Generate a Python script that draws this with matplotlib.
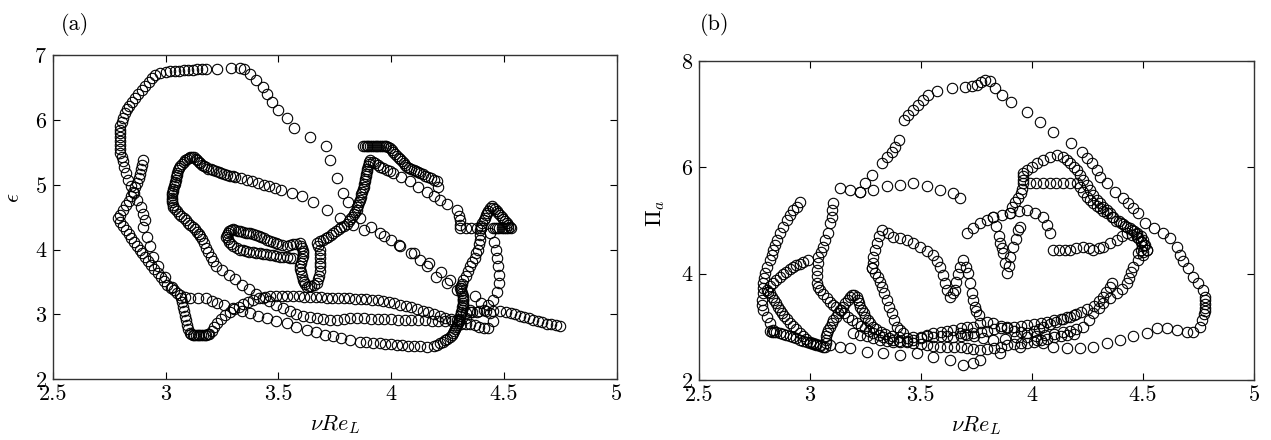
import matplotlib
matplotlib.use("Agg")
import matplotlib.pyplot as plt

plt.rcParams["font.family"] = "cmr10"
plt.rcParams["mathtext.fontset"] = "cm"
plt.rcParams["axes.formatter.use_mathtext"] = True

# ---- panel (a): nu*Re_L vs epsilon, traced as strokes ----
a1 = [(3.064, 3.30), (3.027, 3.43), (2.998, 3.58), (2.968, 3.74), (2.946, 3.89), (2.931, 4.05),
      (2.917, 4.20), (2.902, 4.355), (2.91, 4.45), (2.90, 4.55), (2.89, 4.66), (2.875, 4.77),
      (2.86, 4.88), (2.845, 4.98), (2.835, 5.08), (2.825, 5.18), (2.815, 5.28), (2.81, 5.36),
      (2.805, 5.43), (2.80, 5.49), (2.80, 5.55), (2.80, 5.61), (2.80, 5.67), (2.80, 5.73),
      (2.80, 5.79), (2.80, 5.85), (2.80, 5.91), (2.805, 5.97), (2.81, 6.03), (2.82, 6.10),
      (2.83, 6.16), (2.84, 6.22), (2.85, 6.28), (2.865, 6.34), (2.88, 6.40), (2.895, 6.46),
      (2.91, 6.52), (2.925, 6.58), (2.94, 6.64), (2.955, 6.69), (2.975, 6.72), (3.00, 6.74),
      (3.02, 6.75), (3.04, 6.76), (3.06, 6.76), (3.08, 6.77), (3.10, 6.77), (3.12, 6.77),
      (3.14, 6.78), (3.16, 6.78), (3.18, 6.79), (3.23, 6.79), (3.29, 6.80), (3.33, 6.80),
      (3.35, 6.79), (3.375, 6.71), (3.40, 6.62), (3.43, 6.50), (3.45, 6.40), (3.47, 6.28),
      (3.50, 6.15), (3.54, 6.03), (3.57, 5.87), (3.64, 5.73), (3.71, 5.59), (3.73, 5.38),
      (3.76, 5.10), (3.785, 4.87), (3.81, 4.74), (3.86, 4.48), (3.91, 4.35), (3.97, 4.21),
      (4.035, 4.07), (4.09, 3.95), (4.17, 3.79), (4.22, 3.66), (4.26, 3.53), (4.305, 3.41),
      (4.37, 3.28), (4.40, 3.17), (4.44, 3.02), (4.45, 2.90), (4.43, 2.79), (4.41, 2.79),
      (4.39, 2.81), (4.37, 2.83), (4.35, 2.85), (4.33, 2.86)]

a2 = [(2.900, 5.38), (2.897, 5.31), (2.893, 5.24), (2.888, 5.17), (2.882, 5.10), (2.875, 5.03),
      (2.867, 4.96), (2.858, 4.89), (2.848, 4.82), (2.838, 4.75), (2.826, 4.68), (2.813, 4.61),
      (2.80, 4.54), (2.79, 4.48), (2.80, 4.42), (2.812, 4.36), (2.824, 4.30), (2.836, 4.24),
      (2.848, 4.18), (2.86, 4.12), (2.872, 4.06), (2.885, 4.00), (2.898, 3.94), (2.911, 3.88),
      (2.924, 3.82), (2.937, 3.76), (2.951, 3.70), (2.965, 3.64), (2.979, 3.58), (2.993, 3.52),
      (3.008, 3.46), (3.023, 3.41), (3.038, 3.37), (3.052, 3.33), (3.068, 3.26), (3.072, 3.19),
      (3.076, 3.12), (3.08, 3.05), (3.085, 2.98), (3.09, 2.91), (3.095, 2.84), (3.10, 2.77),
      (3.108, 2.71), (3.114, 2.70), (3.12, 2.69), (3.128, 2.69), (3.135, 2.69), (3.143, 2.69),
      (3.15, 2.69), (3.158, 2.69), (3.165, 2.69), (3.173, 2.69), (3.18, 2.69), (3.188, 2.695),
      (3.195, 2.70), (3.205, 2.74), (3.215, 2.80), (3.227, 2.87), (3.245, 2.93), (3.265, 2.99),
      (3.285, 3.04), (3.305, 3.08), (3.325, 3.12), (3.345, 3.16), (3.365, 3.19), (3.39, 3.22),
      (3.415, 3.25), (3.44, 3.27), (3.465, 3.28), (3.49, 3.28), (3.515, 3.28), (3.54, 3.28),
      (3.565, 3.28), (3.59, 3.28), (3.615, 3.275), (3.64, 3.27), (3.665, 3.27), (3.69, 3.265),
      (3.715, 3.26), (3.74, 3.26), (3.765, 3.255), (3.79, 3.25), (3.815, 3.25), (3.84, 3.245),
      (3.865, 3.24), (3.89, 3.235), (3.915, 3.23), (3.94, 3.22), (3.965, 3.21), (3.99, 3.19),
      (4.015, 3.17), (4.04, 3.15), (4.065, 3.13), (4.09, 3.11), (4.115, 3.09), (4.14, 3.06),
      (4.165, 3.03), (4.19, 3.00), (4.215, 2.97), (4.24, 2.95), (4.265, 2.93), (4.29, 2.92)]

a3 = [(4.30, 2.90), (4.27, 2.90), (4.24, 2.90), (4.21, 2.90), (4.18, 2.905), (4.15, 2.91),
      (4.12, 2.91), (4.09, 2.915), (4.06, 2.92), (4.03, 2.92), (4.00, 2.925), (3.97, 2.93),
      (3.94, 2.93), (3.91, 2.935), (3.88, 2.94), (3.85, 2.94), (3.82, 2.94), (3.79, 2.93),
      (3.76, 2.92), (3.73, 2.92), (3.70, 2.93), (3.67, 2.95), (3.64, 2.96), (3.61, 2.98),
      (3.58, 3.01), (3.55, 3.05), (3.52, 3.10), (3.49, 3.15), (3.46, 3.20), (3.43, 3.26),
      (3.40, 3.32), (3.37, 3.39), (3.34, 3.46), (3.31, 3.54), (3.28, 3.61), (3.25, 3.68),
      (3.225, 3.75), (3.21, 3.82), (3.20, 3.89), (3.19, 3.96), (3.18, 4.03), (3.17, 4.10),
      (3.16, 4.17), (3.155, 4.205), (3.15, 4.24), (3.14, 4.275), (3.13, 4.31), (3.12, 4.345),
      (3.11, 4.38), (3.10, 4.415), (3.09, 4.45), (3.08, 4.485), (3.07, 4.52), (3.06, 4.555),
      (3.05, 4.59), (3.042, 4.625), (3.035, 4.66), (3.032, 4.695), (3.03, 4.73), (3.03, 4.765),
      (3.03, 4.80), (3.03, 4.835), (3.03, 4.87), (3.032, 4.905), (3.035, 4.94), (3.037, 4.975),
      (3.04, 5.01), (3.042, 5.045), (3.045, 5.08), (3.047, 5.115), (3.05, 5.15), (3.052, 5.185),
      (3.055, 5.22), (3.06, 5.255), (3.065, 5.29), (3.072, 5.32), (3.08, 5.35), (3.088, 5.375),
      (3.095, 5.40), (3.103, 5.415), (3.11, 5.43), (3.118, 5.43), (3.125, 5.42), (3.133, 5.40),
      (3.14, 5.38), (3.148, 5.355), (3.155, 5.33), (3.163, 5.31), (3.17, 5.29), (3.18, 5.27),
      (3.19, 5.25), (3.20, 5.235), (3.21, 5.22), (3.222, 5.205), (3.235, 5.19), (3.247, 5.18),
      (3.26, 5.17), (3.272, 5.155), (3.285, 5.14), (3.297, 5.13), (3.31, 5.12), (3.335, 5.10),
      (3.36, 5.08), (3.385, 5.05), (3.41, 5.02), (3.435, 5.00), (3.46, 4.98), (3.485, 4.95),
      (3.51, 4.92), (3.56, 4.88), (3.605, 4.82), (3.655, 4.74), (3.715, 4.61), (3.773, 4.48),
      (3.83, 4.38), (3.88, 4.30), (3.95, 4.25), (4.00, 4.15), (4.04, 4.05), (4.10, 3.94),
      (4.13, 3.84), (4.16, 3.74), (4.20, 3.58), (4.25, 3.48), (4.29, 3.38), (4.32, 3.225),
      (4.35, 3.07), (4.33, 2.95), (4.31, 2.85)]

a4 = [(3.085, 3.27), (3.109, 3.25), (3.145, 3.25), (3.18, 3.25), (3.205, 3.21), (3.227, 3.174),
      (3.26, 3.14), (3.30, 3.097), (3.34, 3.06), (3.375, 3.02), (3.41, 2.98), (3.449, 2.94),
      (3.49, 2.90), (3.537, 2.866), (3.58, 2.81), (3.626, 2.76), (3.665, 2.73), (3.705, 2.69),
      (3.744, 2.66), (3.78, 2.63), (3.82, 2.60), (3.862, 2.58), (3.89, 2.57), (3.92, 2.56),
      (3.95, 2.555), (3.975, 2.55), (4.00, 2.54), (4.025, 2.535), (4.05, 2.53), (4.075, 2.52),
      (4.10, 2.515), (4.13, 2.51), (4.158, 2.505), (4.19, 2.52), (4.205, 2.535), (4.217, 2.556),
      (4.228, 2.58), (4.24, 2.60), (4.25, 2.625), (4.26, 2.65), (4.268, 2.68), (4.276, 2.71),
      (4.28, 2.74), (4.285, 2.77), (4.289, 2.80), (4.293, 2.83), (4.297, 2.865), (4.30, 2.90),
      (4.303, 2.935), (4.305, 2.97), (4.308, 3.005), (4.31, 3.04), (4.313, 3.075), (4.315, 3.11),
      (4.318, 3.145), (4.32, 3.18), (4.32, 3.215), (4.32, 3.25), (4.318, 3.29), (4.315, 3.33),
      (4.312, 3.365), (4.31, 3.40), (4.312, 3.435), (4.315, 3.47), (4.32, 3.53), (4.33, 3.60),
      (4.34, 3.67), (4.35, 3.74), (4.36, 3.81), (4.37, 3.87), (4.378, 3.94), (4.385, 4.00),
      (4.39, 4.08), (4.392, 4.15), (4.394, 4.22), (4.394, 4.30), (4.397, 4.335), (4.40, 4.37),
      (4.405, 4.41), (4.41, 4.45), (4.415, 4.49), (4.42, 4.53), (4.425, 4.565), (4.43, 4.60),
      (4.438, 4.635), (4.446, 4.67), (4.453, 4.645), (4.46, 4.62), (4.468, 4.59), (4.475, 4.56),
      (4.483, 4.53), (4.49, 4.50), (4.498, 4.47), (4.505, 4.44), (4.513, 4.41), (4.52, 4.38),
      (4.525, 4.355), (4.53, 4.33), (4.52, 4.33), (4.51, 4.33), (4.50, 4.33), (4.49, 4.33),
      (4.48, 4.33), (4.47, 4.33), (4.46, 4.33), (4.45, 4.33), (4.44, 4.25), (4.455, 4.12),
      (4.465, 4.00), (4.47, 3.87), (4.475, 3.74), (4.48, 3.61), (4.48, 3.48), (4.47, 3.35),
      (4.453, 3.225), (4.43, 3.14), (4.41, 3.07), (4.38, 3.045), (4.35, 3.03), (4.33, 3.02),
      (4.36, 3.04), (4.39, 3.05), (4.42, 3.06), (4.45, 3.06), (4.483, 3.05), (4.51, 3.03),
      (4.53, 3.02), (4.55, 3.00), (4.57, 2.98), (4.59, 2.96), (4.61, 2.94), (4.63, 2.92),
      (4.65, 2.90), (4.67, 2.88), (4.69, 2.86), (4.71, 2.85), (4.73, 2.83), (4.749, 2.82)]

a5 = [(3.567, 3.87), (3.552, 3.875), (3.537, 3.88), (3.522, 3.885), (3.507, 3.89), (3.492, 3.90),
      (3.477, 3.91), (3.462, 3.92), (3.447, 3.93), (3.432, 3.935), (3.417, 3.94), (3.402, 3.95),
      (3.387, 3.96), (3.372, 3.97), (3.357, 3.98), (3.342, 3.99), (3.33, 4.00), (3.315, 4.02),
      (3.30, 4.05), (3.29, 4.08), (3.28, 4.12), (3.275, 4.16), (3.27, 4.20), (3.272, 4.23),
      (3.275, 4.26), (3.283, 4.28), (3.29, 4.30), (3.30, 4.31), (3.31, 4.30), (3.32, 4.29),
      (3.33, 4.28), (3.343, 4.27), (3.355, 4.26), (3.365, 4.255), (3.375, 4.25), (3.388, 4.24),
      (3.40, 4.23), (3.413, 4.215), (3.425, 4.20), (3.437, 4.175), (3.449, 4.15), (3.462, 4.135),
      (3.475, 4.12), (3.488, 4.105), (3.50, 4.09), (3.518, 4.07), (3.537, 4.05), (3.551, 4.065),
      (3.565, 4.08), (3.58, 4.09), (3.596, 4.10), (3.60, 4.06), (3.605, 4.02), (3.608, 3.98),
      (3.611, 3.94), (3.608, 3.90), (3.605, 3.85), (3.60, 3.80), (3.596, 3.74), (3.598, 3.70),
      (3.60, 3.65), (3.605, 3.60), (3.611, 3.53), (3.615, 3.50), (3.62, 3.47), (3.626, 3.43),
      (3.635, 3.435), (3.645, 3.44), (3.657, 3.46), (3.67, 3.48), (3.675, 3.54), (3.68, 3.60),
      (3.683, 3.67), (3.685, 3.74), (3.685, 3.80), (3.685, 3.87), (3.685, 3.93), (3.685, 4.00),
      (3.678, 4.05), (3.67, 4.10), (3.685, 4.125), (3.70, 4.15), (3.71, 4.175), (3.72, 4.20),
      (3.732, 4.225), (3.744, 4.25), (3.757, 4.285), (3.77, 4.32), (3.78, 4.345), (3.79, 4.37),
      (3.803, 4.40), (3.812, 4.435), (3.82, 4.47), (3.828, 4.51), (3.835, 4.55), (3.841, 4.58),
      (3.847, 4.61), (3.851, 4.65), (3.855, 4.69), (3.859, 4.73), (3.862, 4.77), (3.865, 4.81),
      (3.868, 4.85), (3.872, 4.89), (3.875, 4.93), (3.878, 4.97), (3.88, 5.01), (3.883, 5.05),
      (3.885, 5.09), (3.888, 5.13), (3.89, 5.17), (3.893, 5.21), (3.895, 5.25), (3.898, 5.29),
      (3.90, 5.32), (3.903, 5.35), (3.906, 5.38), (3.918, 5.355), (3.93, 5.33), (3.94, 5.305),
      (3.951, 5.28), (3.965, 5.255), (3.98, 5.23), (3.995, 5.205), (4.01, 5.18), (4.045, 5.12),
      (4.084, 5.05), (4.12, 4.97), (4.158, 4.89), (4.19, 4.83), (4.217, 4.77), (4.25, 4.70),
      (4.29, 4.61), (4.30, 4.52), (4.305, 4.45), (4.305, 4.38), (4.305, 4.33), (4.33, 4.33),
      (4.355, 4.33), (4.38, 4.33)]

a6 = [(3.875, 5.59), (3.883, 5.59), (3.891, 5.59), (3.899, 5.59), (3.907, 5.59), (3.915, 5.59),
      (3.923, 5.59), (3.931, 5.59), (3.939, 5.59), (3.947, 5.59), (3.955, 5.59), (3.963, 5.59),
      (3.971, 5.59), (3.979, 5.59), (3.987, 5.585), (3.995, 5.56), (4.003, 5.53), (4.01, 5.50),
      (4.018, 5.47), (4.025, 5.44), (4.033, 5.415), (4.04, 5.39), (4.048, 5.365), (4.055, 5.34),
      (4.062, 5.31), (4.069, 5.28), (4.08, 5.26), (4.09, 5.24), (4.10, 5.225), (4.11, 5.21),
      (4.12, 5.195), (4.128, 5.18), (4.14, 5.16), (4.15, 5.14), (4.163, 5.12), (4.175, 5.10),
      (4.19, 5.075), (4.202, 5.05), (4.21, 4.97)]

# ---- panel (b): nu*Re_L vs Pi_a ----
b1 = [(3.226, 5.54), (3.25, 5.70), (3.279, 5.857), (3.324, 6.077), (3.346, 6.20), (3.369, 6.295),
      (3.384, 6.39), (3.402, 6.515), (3.424, 6.89), (3.444, 6.985), (3.466, 7.08), (3.489, 7.17),
      (3.511, 7.27), (3.534, 7.36), (3.572, 7.44), (3.639, 7.487), (3.699, 7.517), (3.729, 7.53),
      (3.752, 7.55), (3.77, 7.60), (3.79, 7.64), (3.81, 7.62), (3.834, 7.487), (3.864, 7.36),
      (3.905, 7.235), (3.977, 7.047), (4.037, 6.86), (4.094, 6.67), (4.176, 6.46), (4.224, 6.295),
      (4.247, 6.17), (4.27, 6.077), (4.292, 5.95), (4.307, 5.825), (4.337, 5.70), (4.374, 5.543),
      (4.412, 5.42), (4.434, 5.325), (4.457, 5.23), (4.479, 5.137), (4.509, 4.95), (4.55, 4.85),
      (4.592, 4.76), (4.622, 4.667),
      (4.652, 4.51), (4.667, 4.353), (4.682, 4.23), (4.704, 4.10), (4.727, 3.946), (4.749, 3.82),
      (4.772, 3.695), (4.78, 3.57), (4.78, 3.50), (4.78, 3.43), (4.78, 3.36), (4.78, 3.30),
      (4.775, 3.25), (4.765, 3.12), (4.757, 3.006), (4.727, 2.91), (4.697, 2.91), (4.652, 2.94),
      (4.607, 2.975), (4.562, 2.975), (4.517, 2.88), (4.457, 2.82), (4.397, 2.756), (4.337, 2.69),
      (4.277, 2.63), (4.217, 2.60), (4.157, 2.60), (4.097, 2.63), (4.052, 2.69), (4.022, 2.756),
      (3.947, 2.63), (3.857, 2.505), (3.766, 2.38), (3.736, 2.32), (3.691, 2.285), (3.631, 2.38),
      (3.556, 2.44), (3.481, 2.505), (3.406, 2.475), (3.331, 2.505), (3.256, 2.536), (3.181, 2.60),
      (3.136, 2.63), (3.091, 2.66)]

b2 = [(3.136, 5.607), (3.181, 5.575), (3.226, 5.54), (3.286, 5.575), (3.346, 5.64), (3.406, 5.67),
      (3.466, 5.70), (3.527, 5.64), (3.587, 5.575), (3.646, 5.51), (3.677, 5.42)]

b3 = [(2.956, 5.356), (2.941, 5.262), (2.926, 5.199), (2.911, 5.10), (2.896, 5.011), (2.88, 4.885),
      (2.866, 4.76), (2.851, 4.635), (2.843, 4.54), (2.836, 4.447), (2.828, 4.35), (2.821, 4.259),
      (2.806, 4.134), (2.798, 4.009), (2.794, 3.91), (2.791, 3.821), (2.791, 3.727), (2.791, 3.633),
      (2.783, 3.507), (2.787, 3.41), (2.791, 3.32), (2.806, 3.194), (2.821, 3.069), (2.836, 2.944)]

b4 = [(2.994, 4.259), (2.971, 4.228), (2.956, 4.19), (2.94, 4.16), (2.926, 4.134), (2.91, 4.09),
      (2.895, 4.04), (2.88, 3.99), (2.866, 3.946), (2.85, 3.88), (2.835, 3.82), (2.82, 3.76),
      (2.806, 3.695), (2.813, 3.66), (2.821, 3.633), (2.83, 3.57), (2.84, 3.50), (2.85, 3.44),
      (2.858, 3.38), (2.866, 3.32), (2.875, 3.26), (2.885, 3.20), (2.897, 3.14), (2.911, 3.069),
      (2.925, 3.01), (2.94, 2.95), (2.956, 2.881), (2.97, 2.83), (2.985, 2.78), (3.001, 2.724),
      (3.015, 2.69), (3.03, 2.66), (3.046, 2.645), (3.061, 2.63)]

b5 = [(2.82, 2.93), (2.829, 2.912), (2.84, 2.91), (2.85, 2.90), (2.866, 2.881), (2.88, 2.86),
      (2.895, 2.845), (2.91, 2.83), (2.926, 2.818), (2.94, 2.79), (2.955, 2.76), (2.97, 2.74),
      (2.986, 2.724), (3.00, 2.70), (3.015, 2.685), (3.03, 2.67), (3.046, 2.661), (3.069, 2.63),
      (3.072, 2.69), (3.074, 2.75), (3.075, 2.82), (3.076, 2.881), (3.082, 2.94), (3.09, 3.00),
      (3.098, 3.07), (3.106, 3.131), (3.116, 3.19), (3.128, 3.26), (3.14, 3.32), (3.151, 3.382),
      (3.16, 3.44), (3.17, 3.50), (3.18, 3.56), (3.189, 3.601), (3.20, 3.60), (3.211, 3.57),
      (3.218, 3.50), (3.222, 3.44), (3.226, 3.382), (3.235, 3.32), (3.242, 3.26), (3.249, 3.194),
      (3.26, 3.13), (3.271, 3.069), (3.285, 3.00), (3.30, 2.95), (3.32, 2.90), (3.34, 2.86),
      (3.37, 2.82), (3.40, 2.80), (3.436, 2.79), (3.466, 2.80), (3.50, 2.81), (3.53, 2.82),
      (3.556, 2.818), (3.59, 2.82), (3.62, 2.82), (3.647, 2.818), (3.68, 2.83), (3.71, 2.85),
      (3.737, 2.881), (3.77, 2.90), (3.80, 2.93), (3.83, 2.95), (3.86, 2.97), (3.89, 2.99),
      (3.92, 3.00), (3.95, 3.02), (3.98, 3.04), (4.01, 3.06), (4.04, 3.08), (4.07, 3.10),
      (4.10, 3.12), (4.13, 3.15), (4.16, 3.18), (4.19, 3.22), (4.22, 3.27), (4.25, 3.33),
      (4.28, 3.40), (4.30, 3.48), (4.32, 3.56), (4.335, 3.65), (4.35, 3.74), (4.36, 3.83)]

b6 = [(3.106, 5.324), (3.10, 5.20), (3.099, 5.074), (3.092, 4.95), (3.084, 4.76), (3.07, 4.63),
      (3.061, 4.51), (3.05, 4.41), (3.039, 4.322), (3.035, 4.20), (3.031, 4.071), (3.031, 3.95),
      (3.031, 3.821), (3.038, 3.75), (3.046, 3.695), (3.06, 3.62), (3.076, 3.539), (3.09, 3.47),
      (3.106, 3.413), (3.12, 3.37), (3.136, 3.32), (3.155, 3.26), (3.174, 3.194), (3.19, 3.13),
      (3.211, 3.069), (3.23, 3.02), (3.249, 2.975), (3.265, 2.93), (3.286, 2.881), (3.31, 2.85),
      (3.331, 2.818), (3.355, 2.79), (3.376, 2.756), (3.40, 2.74), (3.436, 2.72), (3.466, 2.70),
      (3.50, 2.68), (3.526, 2.66), (3.556, 2.64), (3.586, 2.63), (3.616, 2.63), (3.65, 2.63),
      (3.68, 2.62), (3.707, 2.60), (3.737, 2.58), (3.767, 2.567), (3.80, 2.58), (3.83, 2.60),
      (3.86, 2.62), (3.89, 2.65), (3.92, 2.67), (3.95, 2.69), (3.977, 2.693), (4.01, 2.72),
      (4.04, 2.75), (4.07, 2.78), (4.10, 2.80), (4.13, 2.83), (4.16, 2.85), (4.19, 2.87)]

b7 = [(3.196, 2.881), (3.226, 2.85), (3.256, 2.82), (3.286, 2.787), (3.316, 2.76), (3.346, 2.74),
      (3.376, 2.724), (3.406, 2.72), (3.436, 2.74), (3.466, 2.756), (3.50, 2.79), (3.53, 2.84),
      (3.556, 2.881), (3.59, 2.91), (3.62, 2.93), (3.647, 2.944), (3.68, 2.97), (3.71, 2.99),
      (3.737, 3.006), (3.767, 3.069), (3.80, 3.09), (3.827, 3.069), (3.86, 3.02), (3.89, 2.97),
      (3.92, 2.93), (3.95, 2.90), (3.977, 2.881), (4.01, 2.92), (4.03, 2.96), (4.052, 3.006),
      (4.08, 3.05), (4.11, 3.10), (4.14, 3.15), (4.172, 3.194), (4.20, 3.25)]

b8 = [(3.279, 4.103), (3.286, 4.20), (3.286, 4.322), (3.293, 4.45), (3.301, 4.572), (3.31, 4.70),
      (3.324, 4.823), (3.35, 4.76), (3.376, 4.698), (3.405, 4.67), (3.436, 4.635), (3.466, 4.57),
      (3.496, 4.51), (3.526, 4.43), (3.556, 4.353), (3.571, 4.24), (3.586, 4.134), (3.598, 3.98),
      (3.609, 3.821), (3.62, 3.69), (3.631, 3.57), (3.643, 3.63), (3.654, 3.695), (3.66, 3.85),
      (3.669, 4.00), (3.675, 4.134), (3.692, 4.259), (3.705, 4.13), (3.714, 4.009), (3.722, 3.82),
      (3.729, 3.633), (3.737, 3.50), (3.744, 3.382), (3.75, 3.30), (3.76, 3.22)]

b9 = [(3.279, 4.103), (3.295, 4.02), (3.309, 3.946), (3.315, 3.85), (3.324, 3.758), (3.335, 3.63),
      (3.346, 3.507), (3.357, 3.38), (3.369, 3.257), (3.38, 3.13), (3.391, 3.006), (3.405, 2.94),
      (3.421, 2.881)]

b10 = [(3.827, 5.074), (3.84, 4.90), (3.85, 4.70), (3.857, 4.573), (3.865, 4.48), (3.872, 4.384),
       (3.878, 4.20), (3.887, 4.009), (3.895, 4.15), (3.902, 4.322), (3.915, 4.50), (3.927, 4.66),
       (3.939, 4.823), (3.947, 4.886)]

b11 = [(3.707, 4.76), (3.737, 4.86), (3.767, 4.948), (3.797, 5.01), (3.827, 5.074), (3.865, 5.11),
       (3.902, 5.136), (3.94, 5.17), (3.977, 5.199), (4.015, 5.14), (4.052, 5.074), (4.07, 4.92),
       (4.082, 4.76)]

b12 = [(3.90, 5.15), (3.909, 5.262), (3.925, 5.35), (3.939, 5.42), (3.95, 5.512), (3.957, 5.60),
       (3.962, 5.70), (3.962, 5.763), (3.962, 5.83), (3.962, 5.89), (3.98, 5.95), (3.999, 6.014),
       (4.025, 6.08), (4.052, 6.14), (4.08, 6.19), (4.112, 6.233), (4.142, 6.20), (4.16, 6.14),
       (4.172, 6.077), (4.19, 6.01), (4.202, 5.951), (4.217, 5.86), (4.232, 5.763), (4.247, 5.67),
       (4.262, 5.575), (4.277, 5.48), (4.292, 5.387), (4.307, 5.32), (4.322, 5.262), (4.337, 5.20),
       (4.352, 5.137), (4.367, 5.07), (4.39, 4.99), (4.41, 4.93), (4.427, 4.886), (4.45, 4.82),
       (4.472, 4.76), (4.49, 4.70), (4.502, 4.635), (4.51, 4.54), (4.517, 4.447), (4.50, 4.40),
       (4.48, 4.38)]

b13 = [(3.99, 5.70), (4.02, 5.70), (4.05, 5.70), (4.08, 5.70), (4.11, 5.70), (4.14, 5.70),
       (4.17, 5.70), (4.202, 5.70), (4.217, 5.638), (4.232, 5.54), (4.247, 5.45), (4.262, 5.39),
       (4.277, 5.324), (4.292, 5.27), (4.307, 5.23), (4.322, 5.18), (4.337, 5.137), (4.36, 5.06),
       (4.38, 5.00), (4.40, 4.95), (4.42, 4.90), (4.44, 4.85), (4.46, 4.80), (4.47, 4.75),
       (4.48, 4.68), (4.49, 4.60), (4.495, 4.52), (4.49, 4.44)]

b14 = [(4.097, 4.447), (4.12, 4.447), (4.15, 4.447), (4.172, 4.447), (4.20, 4.48), (4.232, 4.51),
       (4.255, 4.48), (4.277, 4.447), (4.30, 4.48), (4.322, 4.51), (4.35, 4.57), (4.382, 4.635),
       (4.405, 4.70), (4.427, 4.76), (4.45, 4.73), (4.472, 4.698), (4.49, 4.62), (4.505, 4.54),
       (4.517, 4.447), (4.50, 4.35), (4.48, 4.25), (4.457, 4.134), (4.445, 4.03), (4.435, 3.92),
       (4.427, 3.821), (4.405, 3.72), (4.382, 3.633), (4.35, 3.54), (4.322, 3.445), (4.30, 3.35),
       (4.277, 3.257), (4.255, 3.13), (4.232, 3.006), (4.20, 2.95), (4.17, 2.92), (4.14, 2.90),
       (4.10, 2.87), (4.06, 2.85), (4.02, 2.82), (3.977, 2.818), (3.93, 2.80), (3.88, 2.78),
       (3.827, 2.756), (3.78, 2.79), (3.74, 2.83), (3.70, 2.86), (3.6765, 2.881)]


def draw(ax, strokes):
    for s in strokes:
        xs = [p[0] for p in s]
        ys = [p[1] for p in s]
        ax.plot(xs, ys, "o", mfc="none", mec="k", ms=7.5, mew=0.8)


def style(ax, ylim, yticks):
    ax.set_xlim(2.5, 5)
    ax.set_ylim(*ylim)
    ax.set_xticks([2.5, 3, 3.5, 4, 4.5, 5])
    ax.set_xticklabels(["2.5", "3", "3.5", "4", "4.5", "5"])
    ax.set_yticks(yticks)
    ax.tick_params(direction="in", top=True, right=True, length=5, width=0.8,
                   labelsize=16, pad=4)
    for sp in ax.spines.values():
        sp.set_color("#333333")
        sp.set_linewidth(1.0)


fig = plt.figure(figsize=(12.71, 4.40), dpi=100)
ax1 = fig.add_axes([52.7 / 1271, 1 - 379.3 / 440, 564 / 1271, 324.3 / 440])
ax2 = fig.add_axes([698.7 / 1271, 1 - 380 / 440, 555.3 / 1271, 319 / 440])

draw(ax1, [a1, a2, a3, a4, a5, a6])
draw(ax2, [b1, b2, b3, b4, b5, b6, b7, b8, b9, b10, b11, b12, b13, b14])

style(ax1, (2, 7), [2, 3, 4, 5, 6, 7])
style(ax2, (2, 8), [2, 4, 6, 8])

for ax, ly in ((ax1, -0.14), (ax2, -0.142)):
    ax.set_xlabel(r"$\nu Re_L$", fontsize=16)
    ax.xaxis.set_label_coords(0.5, ly)
    ax.xaxis.label.set_va("center")
ax1.set_ylabel(r"$\epsilon$", fontsize=16)
ax2.set_ylabel(r"$\Pi_a$", fontsize=16)
ax1.yaxis.set_label_coords(-0.07, 0.56)
ax2.yaxis.set_label_coords(-0.077, 0.523)
ax1.yaxis.label.set_va("center")
ax2.yaxis.label.set_va("center")

fig.text(75 / 1271, 1 - 24 / 440, "(a)", fontsize=16, ha="center", va="center")
fig.text(715 / 1271, 1 - 24 / 440, "(b)", fontsize=16, ha="center", va="center")

fig.savefig("out.png", dpi=100)
